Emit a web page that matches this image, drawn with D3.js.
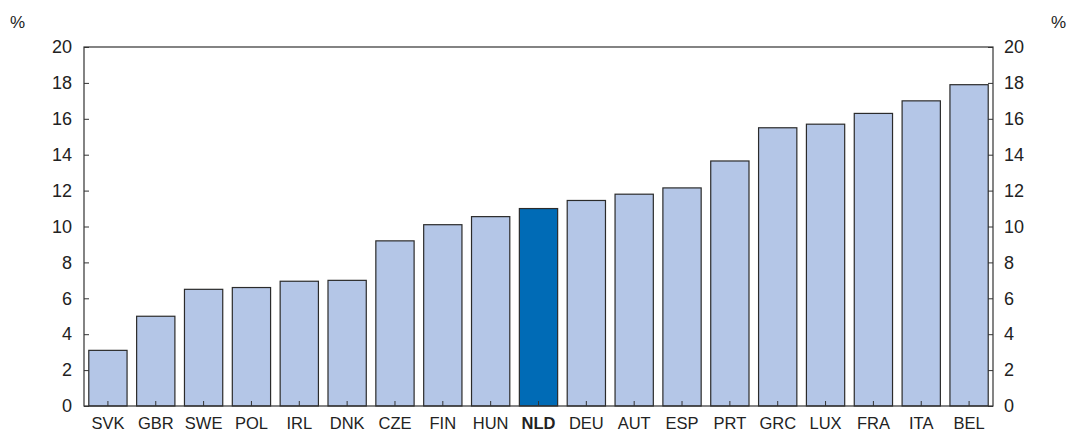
<!DOCTYPE html>
<html>
<head>
<meta charset="utf-8">
<script src="https://cdn.jsdelivr.net/npm/d3@7"></script>
<style>
  html, body { margin: 0; padding: 0; background: #fff; }
  svg { display: block; font-family: "Liberation Sans", Arial, sans-serif; }
</style>
</head>
<body>
<svg id="chart" width="1067" height="433"></svg>
<script>
const countries = ["SVK","GBR","SWE","POL","IRL","DNK","CZE","FIN","HUN","NLD","DEU","AUT","ESP","PRT","GRC","LUX","FRA","ITA","BEL"];
const values = [3.1, 5.0, 6.5, 6.6, 6.95, 7.0, 9.2, 10.1, 10.55, 11.0, 11.45, 11.8, 12.15, 13.65, 15.5, 15.7, 16.3, 17.0, 17.9];
const highlight = "NLD";
const yTicks = [0, 2, 4, 6, 8, 10, 12, 14, 16, 18, 20];

const svg = d3.select("#chart");
const m = { left: 84, right: 993, top: 47, bottom: 406 };

const x = d3.scaleBand().domain(countries).range([m.left, m.right]).paddingInner(0.2).paddingOuter(0.1);
const y = d3.scaleLinear().domain([0, 20]).range([m.bottom, m.top]);

const data = countries.map((c, i) => ({ c, v: values[i] }));

// bars
svg.append("g").selectAll("rect").data(data).join("rect")
  .attr("x", d => x(d.c))
  .attr("y", d => y(d.v))
  .attr("width", x.bandwidth())
  .attr("height", d => y(0) - y(d.v))
  .attr("fill", d => d.c === highlight ? "#006bb6" : "#b4c6e7")
  .attr("stroke", "#2b2b2b")
  .attr("stroke-width", 1.2);

// frame
svg.append("rect")
  .attr("x", m.left).attr("y", m.top)
  .attr("width", m.right - m.left).attr("height", m.bottom - m.top)
  .attr("fill", "none").attr("stroke", "#333").attr("stroke-width", 1.2);

// left and right axes: inward ticks, labels outside
const left = svg.append("g").attr("transform", `translate(${m.left},0)`)
  .call(d3.axisLeft(y).tickValues(yTicks).tickSize(-5).tickPadding(12).tickFormat(d3.format("d")));
const right = svg.append("g").attr("transform", `translate(${m.right},0)`)
  .call(d3.axisRight(y).tickValues(yTicks).tickSize(-5).tickPadding(11).tickFormat(d3.format("d")));
[left, right].forEach(g => {
  g.select(".domain").remove();
  g.selectAll(".tick line").attr("stroke", "#333");
  g.selectAll(".tick text").attr("font-size", 18).attr("fill", "#222")
    .attr("font-family", "'Liberation Sans', Arial, sans-serif");
});

// bottom axis: ticks pointing up at bar centres
const bottom = svg.append("g").attr("transform", `translate(0,${m.bottom})`)
  .call(d3.axisBottom(x).tickSize(-5).tickPadding(11));
bottom.select(".domain").remove();
bottom.selectAll(".tick line").attr("stroke", "#333");
bottom.selectAll(".tick text")
  .attr("font-size", 16.5).attr("fill", "#222")
  .attr("font-family", "'Liberation Sans', Arial, sans-serif")
  .attr("font-weight", d => d === highlight ? "bold" : "normal");

// unit labels
svg.append("text").attr("x", 10).attr("y", 28).attr("font-size", 17).attr("fill", "#222").text("%");
svg.append("text").attr("x", 1051).attr("y", 28).attr("font-size", 17).attr("fill", "#222").text("%");
</script>
</body>
</html>
